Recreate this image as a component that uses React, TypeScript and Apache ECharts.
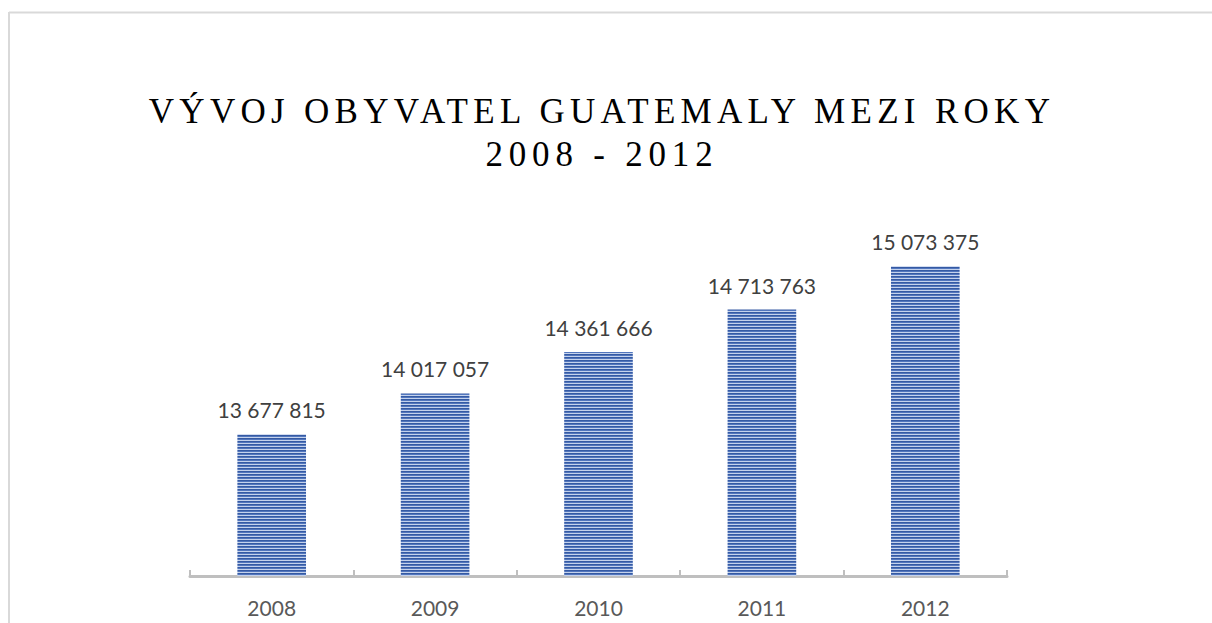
import React, { useEffect, useRef } from "react";
import * as echarts from "echarts";

const titleLines = ["VÝVOJ OBYVATEL GUATEMALY MEZI ROKY", "2008 - 2012"];
const years = ["2008", "2009", "2010", "2011", "2012"];
const population = [13677815, 14017057, 14361666, 14713763, 15073375];
const axisMin = 12500000;
const axisMax = 15500000;

function formatNum(v: number): string {
  return String(v).replace(/\B(?=(\d{3})+(?!\d))/g, " ");
}

function makeStripes(): HTMLCanvasElement {
  const c = document.createElement("canvas");
  c.width = 4;
  c.height = 3;
  const ctx = c.getContext("2d")!;
  const rows = ["#355aa3", "#5276bd", "#c4d2ec"];
  rows.forEach((col, i) => {
    ctx.fillStyle = col;
    ctx.fillRect(0, i, 4, 1);
  });
  return c;
}

export default function App() {
  const ref = useRef<HTMLDivElement>(null);
  useEffect(() => {
    if (!ref.current) return;
    const chart = echarts.init(ref.current, null, { renderer: "svg" });
    const stripes = makeStripes();
    chart.setOption({
      animation: false,
      backgroundColor: "#ffffff",
      title: {
        text: titleLines.join("\n"),
        left: 597,
        top: 85,
        textAlign: "center",
        textStyle: {
          fontFamily: "'Liberation Serif', 'Times New Roman', serif",
          fontSize: 35,
          fontWeight: "normal",
          color: "#000000",
          lineHeight: 43,
        },
      },
      graphic: [
        {
          type: "line",
          shape: { x1: 9, y1: 12.5, x2: 1212, y2: 12.5 },
          style: { stroke: "#d9d9d9", lineWidth: 2 },
          silent: true,
        },
        {
          type: "line",
          shape: { x1: 9, y1: 12, x2: 9, y2: 623 },
          style: { stroke: "#d9d9d9", lineWidth: 2 },
          silent: true,
        },
      ],
      grid: { left: 190, right: 205, top: 215, bottom: 47, containLabel: false },
      xAxis: {
        type: "category",
        data: years,
        axisLine: { show: true, lineStyle: { color: "#bfbfbf", width: 3 } },
        axisTick: {
          show: true,
          inside: true,
          length: 6,
          alignWithLabel: false,
          lineStyle: { color: "#bfbfbf", width: 2 },
        },
        axisLabel: {
          margin: 21,
          fontFamily: "Lato, 'Open Sans', sans-serif",
          fontSize: 21,
          color: "#595959",
        },
      },
      yAxis: {
        type: "value",
        min: axisMin,
        max: axisMax,
        show: false,
        splitLine: { show: false },
      },
      series: [
        {
          type: "bar",
          data: population,
          barWidth: "42%",
          itemStyle: {
            color: { image: stripes, repeat: "repeat" },
          },
          label: {
            show: true,
            position: "top",
            distance: 14,
            formatter: (p: any) => formatNum(p.value),
            fontFamily: "Lato, 'Open Sans', sans-serif",
            fontSize: 21,
            color: "#404040",
          },
        },
      ],
    });
    const applySpacing = () => {
      const texts = ref.current?.querySelectorAll("text") || [];
      texts.forEach((t) => {
        const s = (t.textContent || "").trim();
        if (s === titleLines[0]) t.setAttribute("letter-spacing", "5.3px");
        else if (s === titleLines[1]) t.setAttribute("letter-spacing", "5.8px");
      });
    };
    applySpacing();
    chart.on("finished", applySpacing);
    return () => chart.dispose();
  }, []);
  return (
    <div
      ref={ref}
      style={{ position: "absolute", left: 0, top: 0, width: 1212, height: 623 }}
    />
  );
}
